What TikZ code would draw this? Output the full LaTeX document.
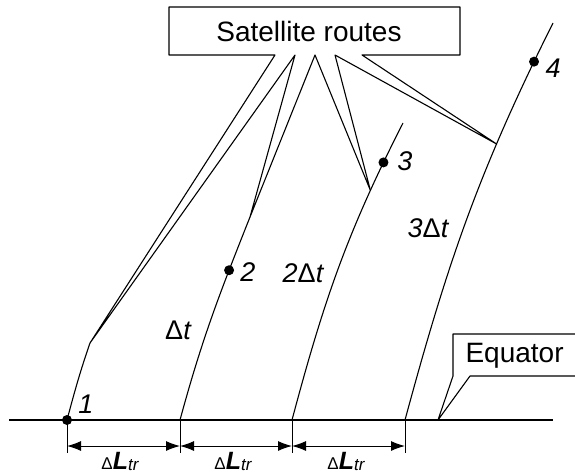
\documentclass[tikz,border=0pt]{standalone}
\usepackage{fontspec}
\setmainfont{Liberation Sans}
\usetikzlibrary{arrows.meta}

\begin{document}
\begin{tikzpicture}[x=1pt,y=-1pt,line width=1.1pt,line join=round,
  dot/.style={circle,fill,inner sep=0pt,minimum size=10pt},
  num/.style={inner sep=0pt,font=\fontsize{27}{30}\selectfont\itshape},
  tag/.style={inner sep=0pt,font=\fontsize{28}{32}\selectfont},
  dimarr/.style={{Latex[length=14pt,width=10pt]}-{Latex[length=14pt,width=10pt]},line width=1pt}]
\useasboundingbox (0,0) rectangle (575,474);
% equator
\coordinate (s1) at (67,420); \coordinate (s2) at (180,420);
\coordinate (s3) at (292,420); \coordinate (s4) at (405,420);
\draw (9,420) -- (553,420);
% routes
\coordinate (t1) at (90,343);
\draw (s1) .. controls (75,390) and (80,372) .. (t1);
\draw (s2) .. controls (202,339) and (219,295) .. coordinate[pos=0.75] (c2) (250,217) coordinate (t2);
\draw (s3) .. controls (324,300) and (347,233) .. coordinate[pos=0.78] (t3) coordinate[pos=0.875] (c3) (403,123);
\draw (s4) .. controls (448,261) and (479,171) .. coordinate[pos=0.70] (t4) coordinate[pos=0.91] (c4) (553,23);
\node[dot] (p1) at (s1) {};
\node[dot] (p2) at (c2) {};
\node[dot] (p3) at (c3) {};
\node[dot] (p4) at (c4) {};
\node[num] (n1) at (86,404) {1};
\node[num] (n2) at (248,272) {2};
\node[num] (n3) at (405,161) {3};
\node[num] (n4) at (553,68) {4};
\node[num] (dt1) at (178,330) {{\upshape Δ}t};
\node[num] (dt2) at (303,273) {2{\upshape Δ}t};
\node[num] (dt3) at (428,228) {3{\upshape Δ}t};
% callout for the routes
\node[tag] (sat) at (309,31) {Satellite routes};
\draw (169,7) -- (460,7) -- (460,55) -- (362,55) -- (t4) -- (335,55) -- (t3)
  -- (315,55) -- (t2) -- (295,55) -- (t1) -- (275,55) -- (169,55) -- cycle;
% callout for the equator
\coordinate (eq) at (438,420);
\node[tag,anchor=west] (eqtxt) at (465,356) {Equator};
\draw (575,334) -- (453,334) -- (453,376) -- (eq) -- (470,376) -- (575,376);
% distances along the equator
\coordinate (dy) at (0,446);
\foreach \s in {s1,s2,s3,s4} \draw[line width=1pt] (\s) -- ++(0,33);
\draw[dimarr] (s1|-dy) -- (s2|-dy);
\draw[dimarr] (s2|-dy) -- (s3|-dy);
\draw[dimarr] (s3|-dy) -- (s4|-dy);
\foreach \x/\n in {120/l1,233/l2,346/l3}
  \node[inner sep=0pt,anchor=base] (\n) at (\x,469)
    {{\fontsize{17}{20}\selectfont Δ}{\fontsize{25}{28}\selectfont\bfseries\itshape L}\raisebox{-1pt}{\fontsize{17}{20}\selectfont\itshape tr}};
\end{tikzpicture}
\end{document}
